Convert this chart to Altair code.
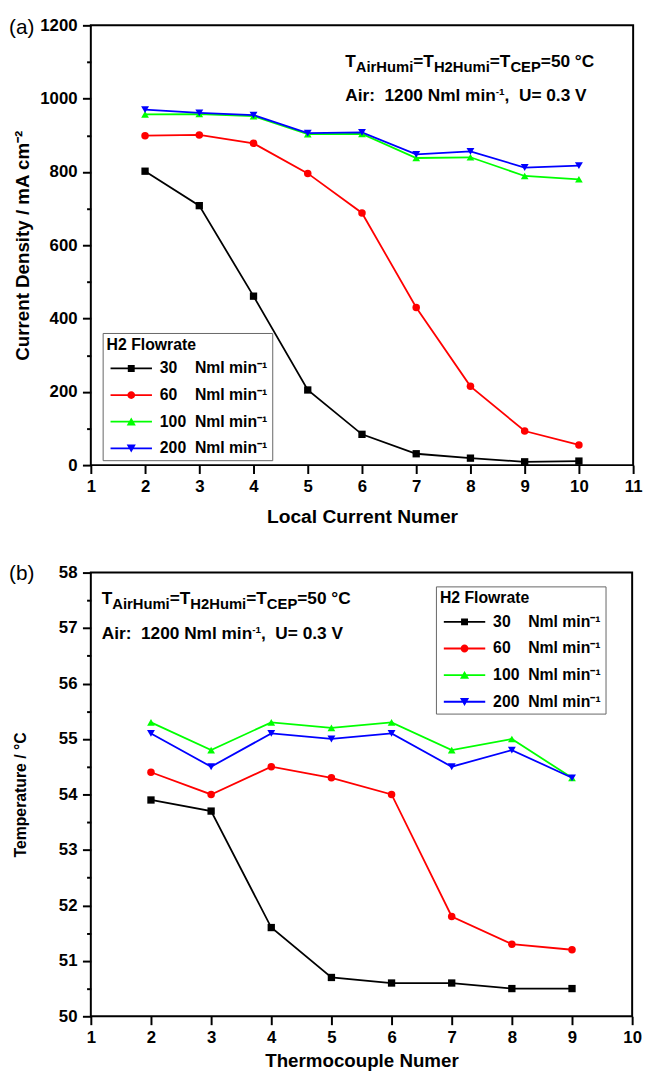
import altair as alt
import pandas as pd

FONT = "Liberation Sans, Arial, Helvetica, sans-serif"

# ---------------- data ----------------
series_names = ["30", "60", "100", "200"]
series_colors = ["#000000", "#ff0000", "#00ff00", "#0000ff"]
series_shapes = ["square", "circle", "triangle-up", "triangle-down"]
series_sizes = [55, 64, 95, 95]

# panel (a): current density vs local current number
a_x = [2, 3, 4, 5, 6, 7, 8, 9, 10]
a_30 = [802, 708, 461, 205, 84, 31, 19, 9, 11]
a_60 = [899, 901, 878, 796, 688, 430, 215, 93, 55]
a_100 = [957, 958, 952, 903, 904, 838, 840, 789, 780]
a_200 = [970, 961, 955, 906, 908, 848, 856, 812, 817]

# panel (b): temperature vs thermocouple number
b_x = [2, 3, 4, 5, 6, 7, 8, 9]
b_30 = [53.9, 53.7, 51.6, 50.7, 50.6, 50.6, 50.5, 50.5]
b_60 = [54.4, 54.0, 54.5, 54.3, 54.0, 51.8, 51.3, 51.2]
b_100 = [55.3, 54.8, 55.3, 55.2, 55.3, 54.8, 55.0, 54.3]
b_200 = [55.1, 54.5, 55.1, 55.0, 55.1, 54.5, 54.8, 54.3]

a_xticks = list(range(1, 12))
a_ymajor = list(range(0, 1201, 200))
a_yminor = list(range(100, 1200, 200))
b_xticks = list(range(1, 11))
b_ymajor = list(range(50, 59))
b_yminor = [50.5 + i for i in range(8)]

# legend symbols: line segment + marker (unit square coordinates)
LINE = "M-1,-0.043H1V0.043H-1Z"
legend_paths = [
    LINE + "M-0.167,-0.167H0.167V0.167H-0.167Z",
    LINE + "M-0.19,0A0.19,0.19,0,1,1,0.19,0A0.19,0.19,0,1,1,-0.19,0Z",
    LINE + "M0,-0.2L0.22,0.18L-0.22,0.18Z",
    LINE + "M-0.22,-0.18L0.22,-0.18L0,0.2Z",
]

# Arial/Liberation Sans Bold advance widths (per 1000 em)
W = {"T": 611, "A": 722, "i": 278, "r": 389, "H": 722, "u": 611, "m": 889,
     "=": 584, "2": 556, "C": 722, "E": 667, "P": 667, "5": 556, "0": 556,
     " ": 278, "\u00a0": 278, "\u00b0": 400, ":": 333, "1": 556, "N": 722,
     "l": 278, "n": 611, ",": 278, "U": 722, ".": 278, "3": 556, "V": 667,
     "-": 333}


def text_width(s, size):
    return sum(W.get(c, 556) for c in s) * size / 1000.0


def long_df(xs, cols):
    rows = []
    for name, vals in zip(series_names, cols):
        for xv, yv in zip(xs, vals):
            rows.append({"x": xv, "v": yv, "s": name})
    return pd.DataFrame(rows)


NB = "\u00a0"
line1 = [("T", 17.5, 0), ("AirHumi", 15, 5), ("=T", 17.5, 0), ("H2Humi", 15, 5),
         ("=T", 17.5, 0), ("CEP", 15, 5), ("=50 \u00b0C", 17.5, 0)]
line2 = [("Air:" + NB + NB + "1200 Nml min", 17.5, 0), ("-1", 10, -6),
         ("," + NB + NB + "U= 0.3 V", 17.5, 0)]


def text_run(pieces, x0, y0, dummy):
    out = []
    x = x0
    for txt, size, dy in pieces:
        out.append(
            alt.Chart(dummy).mark_text(
                text=txt, align="left", baseline="alphabetic", font=FONT,
                fontSize=size, fontWeight="bold", color="black"
            ).encode(x=alt.value(x), y=alt.value(y0 + dy))
        )
        x += text_width(txt, size)
    return out


def make_legend(lx, ly):
    return alt.Legend(
        title=NB * 5 + "H2 Flowrate", orient="none", legendX=lx, legendY=ly,
        titleFont=FONT, titleFontSize=16, titleFontWeight="bold", titleColor="black",
        titlePadding=9, labelFont=FONT, labelFontSize=16, labelFontWeight="bold",
        labelColor="black", labelOffset=8, labelLimit=400,
        labelExpr="datum.label + (length(datum.label) < 3 ? '" + NB * 4 + "' : '" + NB * 2 + "') + 'Nml min\u207b\u00b9'",
        symbolSize=1764, symbolStrokeWidth=0, symbolOffset=4, symbolOpacity=1,
        clipHeight=14, rowPadding=11, padding=4, strokeColor="#666666",
        fillColor="white",
    )


def panel(df, x_dom, x_ticks, y_dom, y_major, y_minor, x_title, x_title_size,
          y_title, y_title_size, y_title_pad, x_title_pad, x_label_pad, w, h,
          leg_xy, ann_x, ann_y1, ann_y2, tag, tag_x, tag_y):
    dummy = pd.DataFrame({"d": [0]})
    xs = alt.Scale(domain=x_dom, nice=False, zero=False)
    ys = alt.Scale(domain=y_dom, nice=False, zero=False)
    x_axis = alt.Axis(values=x_ticks, format="d", title=x_title,
                      titleFontSize=x_title_size,
                      titlePadding=x_title_pad, labelPadding=x_label_pad,
                      labelFlush=False, labelOverlap=False, grid=False,
                      domain=False, tickSize=8.5, orient="bottom")
    y_axis = alt.Axis(values=y_major, format="d", title=y_title,
                      titleFontSize=y_title_size, titlePadding=y_title_pad,
                      labelPadding=5.5, labelFlush=False, labelOverlap=False,
                      grid=False, domain=False, tickSize=8.5, orient="left")
    y_minor_axis = alt.Axis(values=y_minor, labels=False, tickSize=4.3,
                            domain=False, grid=False, title=None, orient="left")
    color_sc = alt.Scale(domain=series_names, range=series_colors)
    X = alt.X("x:Q", scale=xs, axis=x_axis)
    base = alt.Chart(df)
    lines = base.mark_line(strokeWidth=1.8).encode(
        x=X,
        y=alt.Y("v:Q", scale=ys, axis=y_axis),
        color=alt.Color("s:N", scale=color_sc, legend=None),
    )
    points = base.mark_point(filled=True, opacity=1).encode(
        x=X,
        y=alt.Y("v:Q", scale=ys, axis=y_minor_axis),
        color=alt.Color("s:N", scale=color_sc, legend=None),
        shape=alt.Shape("s:N", scale=alt.Scale(domain=series_names, range=series_shapes), legend=None),
        size=alt.Size("s:N", scale=alt.Scale(domain=series_names, range=series_sizes), legend=None),
    )
    L = make_legend(*leg_xy)
    leg = base.mark_point(filled=True).encode(
        x=X,
        y=alt.Y("v:Q", scale=ys, axis=None),
        color=alt.Color("s:N", scale=color_sc, legend=L),
        shape=alt.Shape("s:N", scale=alt.Scale(domain=series_names, range=legend_paths), legend=L),
        opacity=alt.value(0),
    )
    tag_mark = alt.Chart(dummy).mark_text(
        text=tag, align="left", baseline="middle", font=FONT, fontSize=21,
        fontWeight="normal", color="black"
    ).encode(x=alt.value(tag_x), y=alt.value(tag_y))
    texts = text_run(line1, ann_x, ann_y1, dummy) + text_run(line2, ann_x, ann_y2, dummy)
    return alt.layer(lines, points, leg, tag_mark, *texts).resolve_scale(
        color="independent", shape="independent"
    ).resolve_axis(y="independent").properties(width=w, height=h)


df_a = long_df(a_x, [a_30, a_60, a_100, a_200])
df_b = long_df(b_x, [b_30, b_60, b_100, b_200])

pa = panel(df_a, [1, 11], a_xticks, [0, 1200], a_ymajor, a_yminor,
           "Local Current Numer", 19.5, "Current Density / mA cm\u207b\u00b2", 19, 7, 14, 5,
           550, 446, (12, 312), 258, 42, 77, "(a)", -83, 3)
pb = panel(df_b, [1, 10], b_xticks, [50, 58], b_ymajor, b_yminor,
           "Thermocouple Numer", 19, "Temperature / \u00b0C", 16, 30, 6, 5,
           549, 450, (350, 14), 11, 32, 67, "(b)", -83, 2)

chart = alt.vconcat(pa, pb, spacing=109, bounds="flush").properties(
    padding=0
).configure(padding=0).configure_view(stroke="black", strokeWidth=2).configure_axis(
    labelFont=FONT, labelFontSize=17, labelFontWeight="bold", labelColor="black",
    titleFont=FONT, titleFontWeight="bold", titleColor="black",
    tickColor="black", tickWidth=2, grid=False, domain=False
)

chart.save("out.html", embed_options={"renderer": "svg", "actions": False})
